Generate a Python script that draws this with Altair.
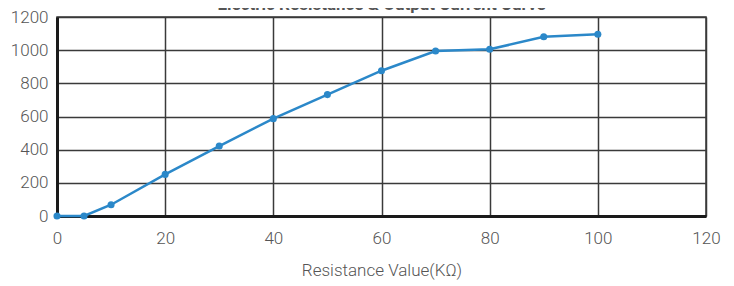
import altair as alt
import pandas as pd

resistance = [0, 5, 10, 20, 30, 40, 50, 60, 70, 80, 90, 100]
current = [0, 0, 68, 251, 422, 587, 732, 876, 995, 1005, 1081, 1096]

df = pd.DataFrame({"r": resistance, "c": current})

FONT = "Roboto"

x = alt.X("r:Q", scale=alt.Scale(domain=[0, 120], nice=False),
          axis=alt.Axis(title="Resistance Value(KΩ)", values=[0, 20, 40, 60, 80, 100, 120],
                        format="d", labelFlush=False,
                        grid=True, gridColor="#3a3a3a", gridWidth=1.5, gridOpacity=1,
                        domainColor="#1a1a1a", domainWidth=3, ticks=False,
                        labelPadding=14, labelFontSize=17, labelColor="#555555",
                        labelFont=FONT, labelFontWeight=300, titleFont=FONT, titleFontSize=17,
                        titleFontWeight=300, titleColor="#555555", titlePadding=16))
y = alt.Y("c:Q", scale=alt.Scale(domain=[0, 1200], nice=False),
          axis=alt.Axis(title=None, values=[0, 200, 400, 600, 800, 1000, 1200],
                        format="d", labelFlush=False,
                        grid=True, gridColor="#3a3a3a", gridWidth=1.5, gridOpacity=1,
                        domainColor="#1a1a1a", domainWidth=3, ticks=False,
                        labelPadding=9, labelFontSize=17, labelColor="#555555",
                        labelFont=FONT, labelFontWeight=300))

line = alt.Chart(df).mark_line(color="#2b88c9", strokeWidth=2.5).encode(x=x, y=y)
pts = alt.Chart(df).mark_circle(color="#2b88c9", size=50, opacity=1).encode(x=x, y=y)

chart = (line + pts).properties(
    width=649, height=199,
    title=alt.TitleParams("Electric Resistance & Output Current Curve", fontSize=17,
                          font=FONT, fontWeight="bold", color="#555555", offset=3, dy=9,
                          anchor="middle"),
    autosize=alt.AutoSizeParams(type="none"),
    padding={"left": 49, "top": 9, "right": 20, "bottom": 70},
).configure_view(stroke="#3a3a3a", strokeWidth=1.5)

chart.save("out.html", embed_options={"renderer": "svg", "actions": False})
